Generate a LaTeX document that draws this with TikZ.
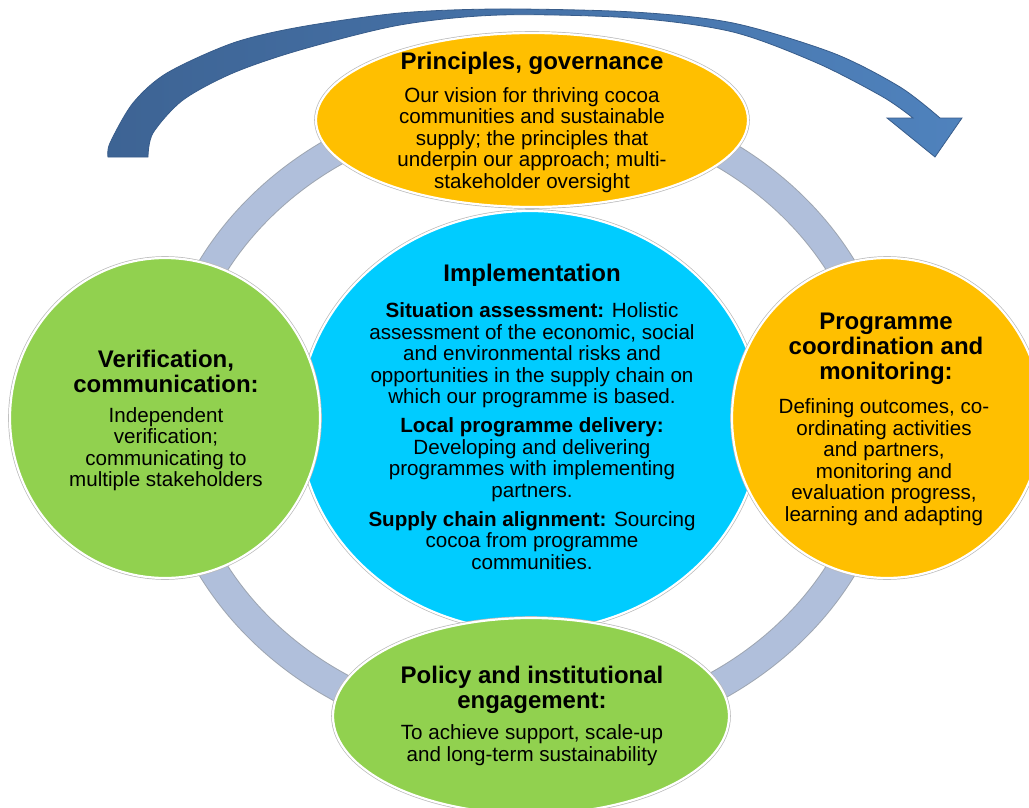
\documentclass[tikz,border=0pt]{standalone}
\usepackage{fontspec}
\setmainfont{Liberation Sans}
\usepackage{tikz}
\usetikzlibrary{shadings}
\definecolor{ringblue}{rgb}{0.69,0.75,0.86}
\definecolor{ringedge}{rgb}{0.62,0.65,0.70}
\definecolor{goldfill}{rgb}{1.0,0.75,0.0}
\definecolor{leaffill}{rgb}{0.57,0.82,0.31}
\definecolor{skyfill}{rgb}{0.0,0.80,1.0}
\definecolor{arrowdark}{rgb}{0.24,0.39,0.58}
\definecolor{arrowlight}{rgb}{0.31,0.51,0.74}
\definecolor{arrowedge}{rgb}{0.22,0.36,0.54}
\newcommand{\ttlfont}{\fontsize{24}{25}\selectfont\bfseries}
\newcommand{\txtfont}{\fontsize{20.6}{21.5}\selectfont}
\tikzset{
  blob/.style={draw=white, line width=2.2pt,
    preaction={draw=gray!55, line width=3.6pt}},
  ttl/.style={align=center, inner sep=0pt, font=\ttlfont},
  txt/.style={align=center, inner sep=0pt, font=\txtfont},
}

\begin{document}
\begin{tikzpicture}[x=1pt,y=-1pt]
      \useasboundingbox (0,0) rectangle (1029,808);
      \clip (0,0) rectangle (1029,808);

      %% ring behind the five shapes
      \draw[ringedge, line width=30pt] (527,418) ellipse [x radius=358, y radius=316];
      \draw[ringblue, line width=28pt] (527,418) ellipse [x radius=358, y radius=316];

      %% curved arrow over the top
      \shadedraw[left color=arrowdark, right color=arrowlight, draw=arrowedge, line width=0.8pt, line join=miter]
        plot[smooth] coordinates {(108,157) (110,143) (133,103) (167,73) (233,43) (300,27) (400,13) (500,9) (633,12) (733,23) (833,53) (900,87) (940,118)}
        -- (962,118) -- (935,157) -- (887,118)
        -- plot[smooth] coordinates {(913,118) (883,97) (817,63) (733,32) (633,18) (500,15) (400,25) (300,50) (233,73) (183,100) (153,133) (148,157)}
        -- cycle;

      %% shapes
      \path[blob, fill=skyfill] (530,421) ellipse [x radius=231, y radius=210];
      \path[blob, fill=goldfill] (532,120) ellipse [x radius=216, y radius=87];
      \path[blob, fill=leaffill] (165,418) ellipse [x radius=155, y radius=160];
      \path[blob, fill=goldfill] (887,418) ellipse [x radius=155, y radius=160];
      \path[blob, fill=leaffill] (531,716) ellipse [x radius=198, y radius=98];

      %% top
      \node[ttl] (princT) at (532,63) {Principles, governance};
      \node[txt] (princB) at (532,140) {Our vision for thriving cocoa\\communities and sustainable\\supply; the principles that\\underpin our approach; multi-\\stakeholder oversight};

      %% centre
      \node[ttl] (implT) at (532,275) {Implementation};
      \node[txt] (implB) at (532,436) {\textbf{Situation assessment:} Holistic\\assessment of the economic, social\\and environmental risks and\\opportunities in the supply chain on\\which our programme is based.\\[7.5pt]
        \textbf{Local programme delivery:}\\Developing and delivering\\programmes with implementing\\partners.\\[7.5pt]
        \textbf{Supply chain alignment:} Sourcing\\cocoa from programme\\communities.};

      %% left
      \node[ttl] (verifT) at (166,371) {Verification,\\communication:};
      \node[txt] (verifB) at (166,449) {Independent\\verification;\\communicating to\\multiple stakeholders};

      %% right
      \node[ttl] (coordT) at (886,349) {Programme\\coordination and\\monitoring:};
      \node[txt] (coordB) at (884,462) {Defining outcomes, co-\\ordinating activities\\and partners,\\monitoring and\\evaluation progress,\\learning and adapting};

      %% bottom
      \node[ttl] (policyT) at (532,690) {Policy and institutional\\engagement:};
      \node[txt] (policyB) at (532,745) {To achieve support, scale-up\\and long-term sustainability};
\end{tikzpicture}
\end{document}
